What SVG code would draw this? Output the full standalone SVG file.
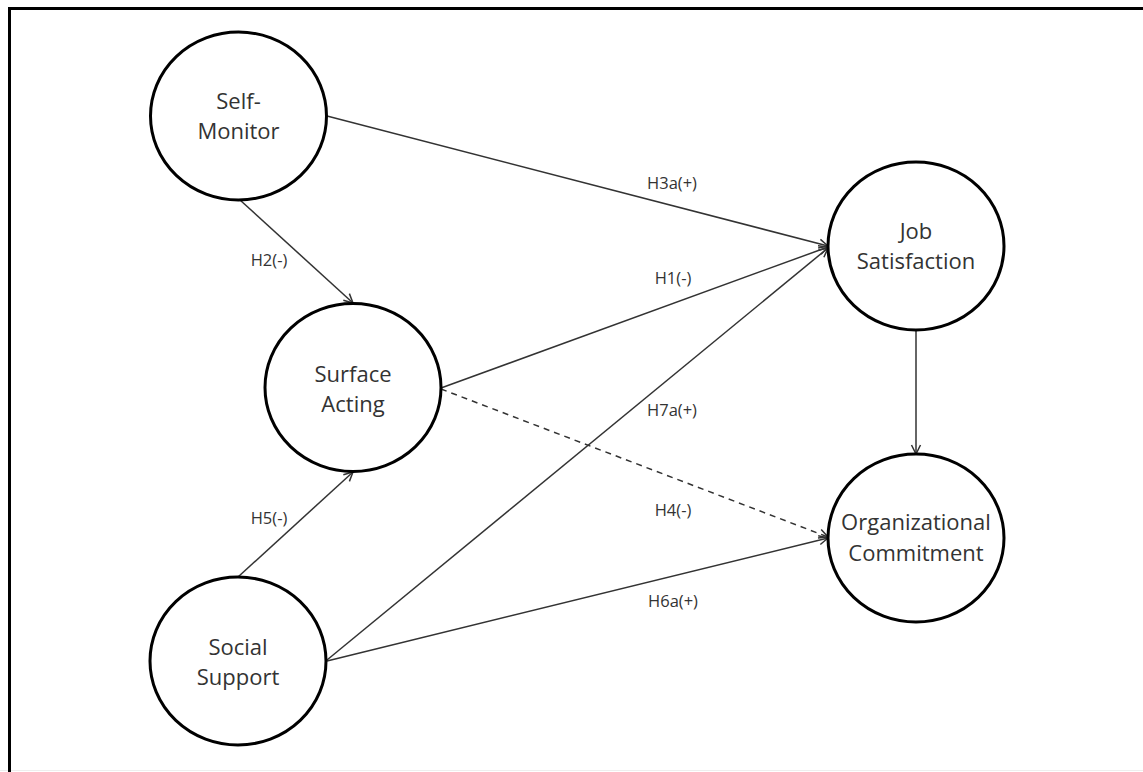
<svg xmlns="http://www.w3.org/2000/svg" width="1143" height="772" viewBox="0 0 1143 772">
<style>
.node ellipse{fill:#fff;stroke:#000;stroke-width:3}
.node text{font-family:"Open Sans","Liberation Sans",sans-serif;font-size:22px;fill:#333;text-anchor:middle}
.lbl{font-family:"Open Sans","Liberation Sans",sans-serif;font-size:16.5px;fill:#333;text-anchor:middle}
#connectors line{stroke:#333;stroke-width:1.5;fill:none;marker-end:url(#arr)}
#connectors line.dash{stroke-dasharray:6 5}
</style>
<defs>
<marker id="arr" markerUnits="userSpaceOnUse" markerWidth="12" markerHeight="12" refX="10" refY="5.5" orient="auto">
<path d="M1,1 L10,5.5 L1,10" fill="none" stroke="#333" stroke-width="1.5"/>
</marker>
</defs>
<rect width="1143" height="772" fill="#fff"/>
<line x1="0" y1="770.5" x2="1143" y2="770.5" stroke="#eeeeee" stroke-width="1"/>
<path d="M9.5,772 V8.5 H1143" fill="none" stroke="#000" stroke-width="3"/>
<g id="connectors">
<line x1="327" y1="116" x2="828" y2="246"/>
<line x1="240" y1="200" x2="353" y2="303"/>
<line x1="441" y1="388" x2="828" y2="247"/>
<line x1="238" y1="577" x2="353" y2="472"/>
<line x1="327" y1="660" x2="828" y2="248"/>
<line x1="327" y1="661" x2="828" y2="538"/>
<line class="dash" x1="441" y1="389" x2="828" y2="537"/>
<line x1="916" y1="330" x2="916" y2="454"/>
</g>
<g id="labels">
<text class="lbl" x="672" y="189">H3a(+)</text>
<text class="lbl" x="673" y="284">H1(-)</text>
<text class="lbl" x="672" y="416">H7a(+)</text>
<text class="lbl" x="269" y="266">H2(-)</text>
<text class="lbl" x="269" y="524">H5(-)</text>
<text class="lbl" x="673" y="516">H4(-)</text>
<text class="lbl" x="673" y="607">H6a(+)</text>
</g>
<g id="self-monitor" class="node">
<ellipse cx="238.5" cy="116" rx="88" ry="84"/>
<text x="238.5" y="109">Self-</text>
<text x="238.5" y="139">Monitor</text>
</g>
<g id="surface-acting" class="node">
<ellipse cx="353" cy="387.5" rx="88" ry="84"/>
<text x="353" y="382">Surface</text>
<text x="353" y="412">Acting</text>
</g>
<g id="social-support" class="node">
<ellipse cx="238" cy="661" rx="88" ry="84"/>
<text x="238" y="655">Social</text>
<text x="238" y="685">Support</text>
</g>
<g id="job-satisfaction" class="node">
<ellipse cx="916" cy="246" rx="88" ry="84"/>
<text x="916" y="239">Job</text>
<text x="916" y="269">Satisfaction</text>
</g>
<g id="organizational-commitment" class="node">
<ellipse cx="916" cy="538" rx="88" ry="84"/>
<text x="916" y="530">Organizational</text>
<text x="916" y="561">Commitment</text>
</g>
</svg>
